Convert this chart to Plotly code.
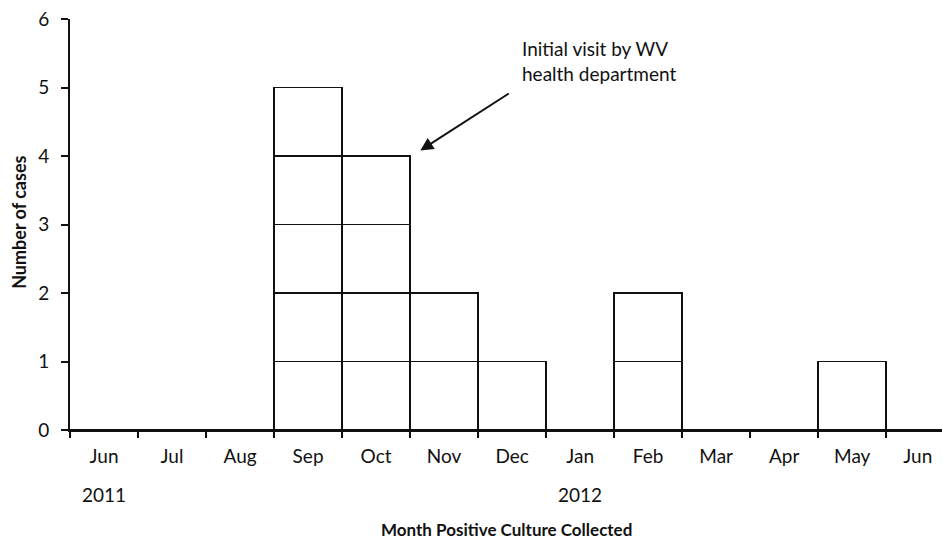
import plotly.graph_objects as go

months = ["Jun", "Jul", "Aug", "Sep", "Oct", "Nov", "Dec", "Jan", "Feb", "Mar", "Apr", "May", "Jun "]
cases = [0, 0, 0, 5, 4, 2, 1, 0, 2, 0, 0, 1, 0]
years = [("2011", 0), ("2012", 7)]
y_ticks = [0, 1, 2, 3, 4, 5, 6]

FONT = "Lato, 'Open Sans', sans-serif"

fig = go.Figure()
max_c = max(cases)
for layer in range(1, max_c + 1):
    yv = [1 if c >= layer else 0 for c in cases]
    fig.add_trace(go.Bar(
        x=months, y=yv, width=1,
        marker=dict(color="white", line=dict(color="#111111", width=1.6)),
        showlegend=False, hoverinfo="skip",
    ))

fig.update_layout(
    barmode="stack",
    width=942, height=540,
    margin=dict(l=70, r=0, t=19, b=110),
    plot_bgcolor="white", paper_bgcolor="white",
    font=dict(family=FONT, size=19, color="#111111"),
    xaxis=dict(
        type="category", tickson="boundaries", range=[-0.5, 12.32],
        automargin=False,
        showline=True, linecolor="#111111", linewidth=2,
        ticks="outside", ticklen=6, tickwidth=1.5, tickcolor="#111111",
        ticklabelstandoff=8,
        showgrid=False, zeroline=False,
        tickfont=dict(size=19),
    ),
    yaxis=dict(
        range=[0, 6], tickvals=y_ticks, automargin=False,
        showline=True, linecolor="#111111", linewidth=2,
        ticks="outside", ticklen=7, tickwidth=1.5, tickcolor="#111111",
        ticklabelstandoff=8,
        showgrid=False, zeroline=False,
        tickfont=dict(size=19),
    ),
)

for label, idx in years:
    fig.add_annotation(x=idx, y=-0.156, xref="x", yref="paper", text=label,
                       showarrow=False, font=dict(size=19), xanchor="center", yanchor="middle")

fig.add_annotation(x=0.5, y=-0.243, xref="paper", yref="paper",
                   text="<b>Month Positive Culture Collected</b>", showarrow=False,
                   font=dict(size=17), xanchor="center", yanchor="middle")
fig.add_annotation(x=-0.058, y=0.505, xref="paper", yref="paper",
                   text="<b>Number of cases</b>", showarrow=False, textangle=-90,
                   font=dict(size=18), xanchor="center", yanchor="middle")

fig.add_annotation(x=4.65, y=4.08, xref="x", yref="y", text="",
                   showarrow=True, ax=90, ay=-58, arrowhead=2, arrowsize=1.3,
                   arrowwidth=2, arrowcolor="#111111")
fig.add_annotation(x=6.12, y=5.39, xref="x", yref="y",
                   text="Initial visit by WV<br>health department", showarrow=False,
                   align="left", xanchor="left", yanchor="middle", font=dict(size=19))

fig.write_html("out.html", config={"displayModeBar": False},
               post_script="document.body.style.margin='0';")
